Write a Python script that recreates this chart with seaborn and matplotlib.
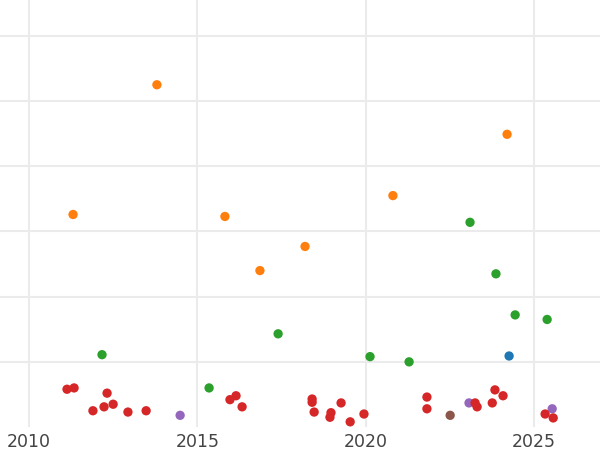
import matplotlib
matplotlib.use('Agg')
import matplotlib.pyplot as plt
import seaborn as sns
import pandas as pd

# values (y in arbitrary units, gridline every 10)
orange_x = [2013.80, 2011.31, 2015.82, 2018.20, 2016.86, 2020.81, 2024.20]
orange_y = [52.5, 32.6, 32.3, 27.7, 24.0, 35.5, 44.9]

green_x = [2012.17, 2017.40, 2015.35, 2020.13, 2021.29, 2023.10, 2023.87, 2024.44, 2025.39]
green_y = [11.1, 14.3, 6.0, 10.8, 10.0, 31.4, 23.5, 17.2, 16.5]

blue_x = [2024.26]
blue_y = [10.9]

brown_x = [2022.51]
brown_y = [1.8]

purple_x = [2014.49, 2023.07, 2025.54]
purple_y = [1.8, 3.7, 2.8]

red_x = [2011.13, 2011.34, 2012.32, 2011.90, 2012.23, 2012.50, 2012.94, 2013.48,
         2015.97, 2016.15, 2016.33, 2018.41, 2018.41, 2018.47, 2018.97, 2018.94,
         2019.27, 2019.54, 2019.95, 2021.82, 2021.82, 2023.25, 2023.31, 2023.76,
         2023.84, 2024.08, 2025.33, 2025.57]
red_y = [5.8, 6.0, 5.2, 2.5, 3.1, 3.5, 2.3, 2.5,
         4.2, 4.8, 3.1, 4.3, 3.8, 2.3, 2.2, 1.5,
         3.7, 0.8, 2.0, 4.6, 2.8, 3.7, 3.1, 3.7,
         5.7, 4.8, 2.0, 1.4]

x_ticks = [2010, 2015, 2020, 2025]
y_ticks = [10, 20, 30, 40, 50, 60]

series = {
    'blue': (blue_x, blue_y),
    'orange': (orange_x, orange_y),
    'green': (green_x, green_y),
    'purple': (purple_x, purple_y),
    'brown': (brown_x, brown_y),
    'red': (red_x, red_y),
}
palette = {
    'blue': '#1f77b4',
    'orange': '#ff7f0e',
    'green': '#2ca02c',
    'red': '#d62728',
    'purple': '#9467bd',
    'brown': '#8c564b',
}

rows = []
for name, (xs, ys) in series.items():
    for x, y in zip(xs, ys):
        rows.append({'year': x, 'value': y, 'group': name})
df = pd.DataFrame(rows)

sns.set_style('white')
fig = plt.figure(figsize=(6, 4.5), dpi=100)
ax = fig.add_axes([0, 0.051, 1, 0.949])

sns.scatterplot(data=df, x='year', y='value', hue='group', palette=palette,
                s=45, linewidth=0, alpha=1, legend=False, ax=ax, zorder=3)

ax.set_xlim(2009.14, 2026.96)
ax.set_ylim(0, 65.5)
ax.set_xticks(x_ticks)
ax.set_yticks(y_ticks)
ax.set_yticklabels([])
ax.grid(True, color='#ebebeb', linewidth=1.5)
ax.set_axisbelow(True)
ax.tick_params(axis='x', length=0, labelsize=12.5, labelcolor='#444444', pad=4)
ax.tick_params(axis='y', length=0)
ax.set_xlabel('')
ax.set_ylabel('')
for sp in ax.spines.values():
    sp.set_visible(False)

fig.savefig('out.png', dpi=100)
